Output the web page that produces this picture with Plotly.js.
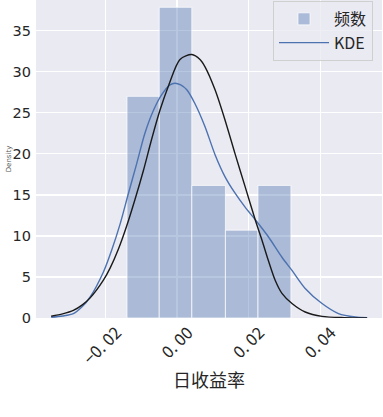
<!DOCTYPE html>
<html>
<head>
<meta charset="utf-8">
<script src="https://cdn.plot.ly/plotly-3.0.1.min.js"></script>
<style>html,body{margin:0;padding:0;background:#fff;}#chart{width:383px;height:417px;}</style>
</head>
<body>
<div id="chart"></div>
<script>
// Histogram (density)
const binEdges = [-0.0140, -0.0050, 0.0041, 0.0135, 0.0226, 0.0318];
const binDensity = [27.0, 37.85, 16.15, 10.7, 16.15];

// KDE curve (blue)
const kdeX = [-0.0352, -0.0320, -0.0290, -0.0265, -0.0243, -0.0206, -0.0183, -0.0159, -0.0136, -0.0113, -0.0090, -0.0066, -0.0043, -0.0020, -0.0006, 0.0010, 0.0027, 0.0050, 0.0078, 0.0106, 0.0134, 0.0162, 0.0190, 0.0218, 0.0255, 0.0293, 0.0321, 0.0358, 0.0405, 0.0451, 0.0498, 0.0531];
const kdeY = [0.1, 0.25, 0.54, 1.4, 2.56, 5.6, 8.26, 11.5, 15.2, 18.8, 22.5, 25.3, 27.2, 28.4, 28.6, 28.4, 27.8, 26.1, 23.3, 19.9, 17.2, 15.2, 13.5, 12.0, 9.9, 7.4, 5.8, 3.6, 1.76, 0.54, 0.12, 0.04];

// Fitted normal curve (black)
const fitX = [-0.0352, -0.0320, -0.0290, -0.0265, -0.0243, -0.0206, -0.0187, -0.0164, -0.0141, -0.0118, -0.0094, -0.0071, -0.0048, -0.0024, 0.0008, 0.0041, 0.0064, 0.0078, 0.0106, 0.0134, 0.0162, 0.0190, 0.0218, 0.0237, 0.0255, 0.0274, 0.0293, 0.0321, 0.0358, 0.0405, 0.0467, 0.0531];
const fitY = [0.22, 0.5, 0.92, 1.6, 2.45, 4.6, 6.1, 8.4, 11.2, 14.4, 18.0, 21.8, 25.3, 28.3, 31.5, 32.1, 31.5, 30.6, 27.8, 24.1, 20.0, 16.0, 12.0, 9.5, 7.0, 4.6, 3.0, 1.76, 0.73, 0.2, 0.05, 0.02];

// Tick labels
const xTickVals = [-0.02, 0.00, 0.02, 0.04];
const xTickText = ['\u22120. 02', '0. 00', '0. 02', '0. 04'];
const yTickVals = [0, 5, 10, 15, 20, 25, 30, 35];

const binCenters = binDensity.map((_, i) => (binEdges[i] + binEdges[i + 1]) / 2);
const binWidths = binDensity.map((_, i) => binEdges[i + 1] - binEdges[i]);

const traces = [
  {
    type: 'bar', name: '频数', x: binCenters, y: binDensity, width: binWidths,
    marker: {color: 'rgba(76,114,176,0.4)', line: {color: 'rgba(255,255,255,0.7)', width: 1}},
    hoverinfo: 'skip'
  },
  {
    type: 'scatter', mode: 'lines', name: 'KDE', x: kdeX, y: kdeY,
    line: {color: '#4C72B0', width: 1.4, shape: 'spline', smoothing: 0.8}
  },
  {
    type: 'scatter', mode: 'lines', name: 'fit', x: fitX, y: fitY, showlegend: false,
    line: {color: '#1a1a1a', width: 1.4, shape: 'spline', smoothing: 0.8}
  }
];

const layout = {
  width: 383, height: 417,
  margin: {l: 36, r: 1, t: 0, b: 99},
  paper_bgcolor: '#ffffff',
  plot_bgcolor: '#EAEAF2',
  font: {family: 'DejaVu Sans, sans-serif', color: '#262626'},
  bargap: 0,
  showlegend: true,
  xaxis: {
    range: [-0.03944, 0.05726],
    tickvals: xTickVals, ticktext: xTickText,
    tickangle: -45,
    ticklabelshift: 11, ticklabelstandoff: 1,
    tickfont: {family: 'Noto Sans CJK SC, sans-serif', size: 16.5, color: '#262626'},
    showgrid: true, gridcolor: '#ffffff', gridwidth: 1.3,
    zeroline: false, showline: false, ticks: '',
    title: {text: '日收益率', font: {family: 'Noto Sans CJK SC, sans-serif', size: 18, color: '#262626'}, standoff: 6}
  },
  yaxis: {
    range: [0, 38.74],
    tickvals: yTickVals,
    tickfont: {family: 'DejaVu Sans, sans-serif', size: 14.5, color: '#262626'},
    showgrid: true, gridcolor: '#ffffff', gridwidth: 1.3,
    zeroline: false, showline: false, ticks: '',
    ticklabelstandoff: 4,
    title: {text: 'Density', font: {size: 7, color: '#555555'}, standoff: 0}
  },
  legend: {
    x: 0.974, xanchor: 'right', y: 0.997, yanchor: 'top',
    bgcolor: 'rgba(234,234,242,0.8)', bordercolor: 'rgba(204,204,204,0.9)', borderwidth: 1,
    font: {family: 'Noto Sans CJK SC, sans-serif', size: 16, color: '#262626'},
    itemwidth: 50, traceorder: 'normal'
  }
};

Plotly.newPlot('chart', traces, layout, {displayModeBar: false, staticPlot: true});
</script>
</body>
</html>
